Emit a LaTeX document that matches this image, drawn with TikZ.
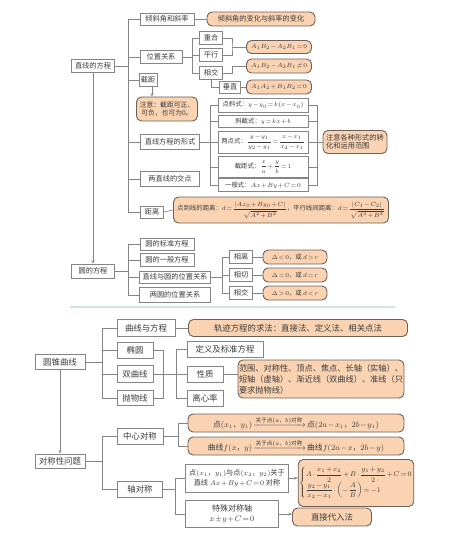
\documentclass[tikz,border=0pt]{standalone}
\usepackage{amsmath}
\usepackage{fontspec}
\setmainfont{Noto Sans CJK SC}
\usetikzlibrary{arrows.meta,calc}
\definecolor{lc}{HTML}{858585}
\definecolor{ofill}{HTML}{FAD3B2}
\definecolor{odraw}{HTML}{6E6058}
\definecolor{tc}{HTML}{3C3C3C}
\definecolor{gl}{HTML}{CFE9D8}
\medmuskip=1.5mu plus 1mu minus 1mu
\thickmuskip=2mu plus 1mu minus 1mu
\newcommand{\symarrow}{\xrightarrow{\raisebox{1pt}{\fontsize{5.6}{6}\selectfont 关于点$(a$，$b)$对称}}}
\begin{document}
\begin{tikzpicture}[x=1pt,y=-1pt,
 sz/.style 2 args={minimum width=#1pt,minimum height=#2pt},
 wb/.style={draw=lc,line width=0.7pt,fill=white,inner sep=0.5pt,text=tc},
 ob/.style={draw=odraw,line width=0.9pt,fill=ofill,rounded corners=5pt,inner sep=1pt,text=tc},
 ft/.style={font=\fontsize{7.2}{8.5}\selectfont},
 fm/.style={font=\fontsize{6.4}{8}\selectfont},
 fb/.style={font=\fontsize{8.4}{10.5}\selectfont},
 ln/.style={draw=lc,line width=0.7pt},
 arr/.style={ln,-{Stealth[length=3.5pt,width=3pt]}}
]
\useasboundingbox (0,0) rectangle (474,553);

% ---------- top: 直线的方程 ----------
\node[wb,ft,sz={43}{13}] (zf) at (93,66) {直线的方程};
\node[wb,ft,sz={54}{12}] (n1) at (167,19) {倾斜角和斜率};
\node[ob,ft,sz={108}{14}] (n1b) at (261,19) {倾斜角的变化与斜率的变化};
\node[wb,ft,sz={42}{13}] (n2) at (161,57) {位置关系};
\node[wb,ft,sz={18}{13}] (n3) at (148,80) {截距};
\node[ob,sz={61}{24},align=center,font=\fontsize{6.8}{8.2}\selectfont] (n3b) at (167,109) {注意：截距可正、\\可负，也可为0。};
\node[wb,ft,sz={59}{15}] (n4) at (170,142) {直线方程的形式};
\node[wb,ft,sz={59}{15}] (n5) at (170,179) {两直线的交点};
\node[wb,ft,sz={23}{12}] (n6) at (152,212) {距离};
\node[ob,fm,sz={215}{26}] (n6b) at (281,210) {点到线的距离：$d=\dfrac{|Ax_0+By_0+C|}{\sqrt{A^2+B^2}}$，平行线间距离：$d=\dfrac{|C_1-C_2|}{\sqrt{A^2+B^2}}$};

\node[wb,ft,sz={23}{13}] (p1) at (211,38) {重合};
\node[wb,ft,sz={23}{13}] (p2) at (211,55) {平行};
\node[wb,ft,sz={23}{13}] (p3) at (211,73) {相交};
\node[wb,ft,sz={21}{12}] (p4) at (230,87) {垂直};
\node[ob,fm,sz={65}{13}] (q1) at (279,47) {$A_1B_2-A_2B_1=0$};
\node[ob,fm,sz={65}{14}] (q2) at (279,66) {$A_1B_2-A_2B_1\neq0$};
\node[ob,fm,sz={65}{14}] (q3) at (279,87) {$A_1A_2+B_1B_2=0$};

\node[wb,fm,sz={90}{14}] (f1) at (263,105) {点斜式：$y-y_0=k(x-x_0)$};
\node[wb,fm,sz={90}{12}] (f2) at (263,121) {斜截式：$y=kx+b$};
\node[wb,fm,sz={90}{22}] (f3) at (263,142) {两点式：$\dfrac{y-y_1}{y_2-y_1}=\dfrac{x-x_1}{x_2-x_1}$};
\node[wb,fm,sz={90}{21}] (f4) at (263,167) {截距式：$\dfrac{x}{a}+\dfrac{y}{b}=1$};
\node[wb,fm,sz={90}{13}] (f5) at (263,185) {一般式：$Ax+By+C=0$};
\node[ob,ft,sz={64}{23},align=left] (fn) at (355,142) {注意各种形式的转\\化和运用范围};

\coordinate (T1) at (128,66);
\draw[ln] (zf.east) -- (T1);
\foreach \n in {n1,n2,n3,n4,n5,n6} \draw[ln] (T1) |- (\n.west);
\draw[ln] (n1.east) -- (n1b.west);
\draw[arr] ([xshift=4pt]n3.south) -- ([xshift=4pt]n3.south |- n3b.north);
\draw[ln] (n6.east) -- (n6b.west);

\coordinate (T2) at (192,57);
\draw[ln] (n2.east) -- (T2);
\foreach \n in {p1,p2,p3} \draw[ln] (T2) |- (\n.west);
\coordinate (B1) at (232,47);
\draw[ln] (p1.east) -| (B1) |- (p2.east);
\draw[ln] (B1) -- (q1.west);
\coordinate (B2) at (232,66);
\draw[ln] (p3.east) -| (B2) -- (q2.west);
\draw[ln] (p3.south) |- (p4.west);
\draw[ln] (p4.east) -- (q3.west);

\coordinate (T3) at (210,142);
\draw[ln] (n4.east) -- (T3);
\foreach \n in {f1,f2,f3,f4,f5} \draw[ln] (T3) |- (\n.west);
\coordinate (T4) at (317,142);
\foreach \n in {f1,f2,f3,f4,f5} \draw[ln] (\n.east) -| (T4);
\draw[ln] (T4) -- (fn.west);

% ---------- 圆的方程 ----------
\node[wb,ft,sz={43}{14}] (yf) at (93,271) {圆的方程};
\node[wb,ft,sz={54}{12}] (c1) at (167,244) {圆的标准方程};
\node[wb,ft,sz={54}{13}] (c2) at (167,260) {圆的一般方程};
\node[wb,ft,sz={71}{12}] (c3) at (175,277) {直线与圆的位置关系};
\node[wb,ft,sz={71}{15}] (c4) at (175,295) {两圆的位置关系};
\node[wb,ft,sz={23}{13}] (d1) at (241,257) {相离};
\node[wb,ft,sz={23}{13}] (d2) at (241,275) {相切};
\node[wb,ft,sz={23}{13}] (d3) at (241,293) {相交};
\node[ob,fm,sz={64}{14}] (e1) at (295,257) {$\Delta<0$，或 $d>r$};
\node[ob,fm,sz={64}{14}] (e2) at (295,275) {$\Delta=0$，或 $d=r$};
\node[ob,fm,sz={64}{14}] (e3) at (295,293) {$\Delta>0$，或 $d<r$};

\draw[arr] (zf.south) -- (yf.north);
\coordinate (T5) at (128,271);
\draw[ln] (yf.east) -- (T5);
\foreach \n in {c1,c2,c3,c4} \draw[ln] (T5) |- (\n.west);
\coordinate (T6) at (222,277);
\draw[ln] (c3.east) -- (T6);
\foreach \n in {d1,d2,d3} \draw[ln] (T6) |- (\n.west);
\draw[ln] (d1.east) -- (e1.west);
\draw[ln] (d2.east) -- (e2.west);
\draw[ln] (d3.east) -- (e3.west);

% separator
\draw[gl,line width=1.2pt] (70,307) -- (395,307);

% ---------- 圆锥曲线 ----------
\node[wb,fb,sz={50}{15}] (zy) at (60,362) {圆锥曲线};
\node[wb,fb,sz={50}{14}] (zd) at (60,461) {对称性问题};
\draw[arr] (zy.south) -- (zd.north);

\node[wb,fb,sz={58}{17}] (g1) at (146,328) {曲线与方程};
\node[wb,fb,sz={36}{16}] (g2) at (135,350) {椭圆};
\node[wb,fb,sz={36}{17}] (g3) at (135,374) {双曲线};
\node[wb,fb,sz={36}{15}] (g4) at (135,398) {抛物线};
\node[ob,fb,sz={219}{17}] (g1b) at (298,328) {轨迹方程的求法：直接法、定义法、相关点法};
\node[wb,fb,sz={76}{16}] (h1) at (225,349) {定义及标准方程};
\node[wb,fb,sz={36}{16}] (h2) at (205,374) {性质};
\node[wb,fb,sz={36}{16}] (h3) at (205,398) {离心率};
\node[ob,sz={165}{38},align=left,font=\fontsize{8.2}{11}\selectfont] (h2b) at (321,379) {范围、对称性、顶点、焦点、长轴（实轴）、\\短轴（虚轴）、渐近线（双曲线）、准线（只\\要求抛物线）};

\coordinate (T7) at (102,362);
\draw[ln] (zy.east) -- (T7);
\foreach \n in {g1,g2,g3,g4} \draw[ln] (T7) |- (\n.west);
\draw[ln] (g1.east) -- (g1b.west);
\coordinate (B3) at (163,374);
\draw[ln] (g2.east) -| (B3);
\draw[ln] (g4.east) -| (B3);
\draw[ln] (g3.east) -- (B3);
\coordinate (T8) at (176,374);
\draw[ln] (B3) -- (T8);
\foreach \n in {h1,h2,h3} \draw[ln] (T8) |- (\n.west);
\draw[ln] (h2.east) -- (h2.east -| h2b.west);

% ---------- 对称性问题 ----------
\node[wb,fb,sz={46}{16}] (s1) at (140,436) {中心对称};
\node[wb,fb,sz={45}{16}] (s2) at (140,489) {轴对称};
\node[ob,sz={216}{18},font=\fontsize{7.8}{10}\selectfont] (o1) at (296,423) {点$(x_1$，$y_1)$\,$\symarrow$\,点$(2a-x_1$，$2b-y_1)$};
\node[ob,sz={216}{18},font=\fontsize{7.8}{10}\selectfont] (o2) at (296,446) {曲线$f(x$，$y)$\,$\symarrow$\,曲线$f(2a-x$，$2b-y)$};
\node[wb,sz={103}{28},align=center,font=\fontsize{7.2}{9.5}\selectfont] (r1) at (237,478) {点$(x_1$，$y_1)$与点$(x_2$，$y_2)$关于\\直线 $Ax+By+C=0$ 对称};
\node[wb,sz={93}{27},align=center,font=\fontsize{8}{10.5}\selectfont] (r2) at (232,514) {特殊对称轴\\$x\pm y+C=0$};
\node[ob,sz={112}{47},font=\fontsize{6.6}{8}\selectfont] (r1b) at (356,483) {$\left\{\begin{array}{@{}l@{}}A\cdot\dfrac{x_1+x_2}{2}+B\cdot\dfrac{y_1+y_2}{2}+C=0\\[3pt] \dfrac{y_2-y_1}{x_2-x_1}\cdot\left(-\dfrac{A}{B}\right)=-1\end{array}\right.$};
\node[ob,fb,sz={79}{18}] (r2b) at (332,517) {直接代入法};

\coordinate (T9) at (102,461);
\draw[ln] (zd.east) -- (T9);
\draw[ln] (T9) |- (s1.west);
\draw[ln] (T9) |- (s2.west);
\coordinate (T10) at (178,436);
\draw[ln] (s1.east) -- (T10);
\draw[ln] (T10) |- (o1.west);
\draw[ln] (T10) |- (o2.west);
\coordinate (T11) at (175,489);
\draw[ln] (s2.east) -- (T11);
\draw[ln] (T11) |- (r1.west);
\draw[ln] (T11) |- (r2.west);
\draw[arr] (r1.east) -- (r1.east -| r1b.west);
\draw[arr] (r2.east) -- (r2.east -| r2b.west);
\end{tikzpicture}
\end{document}
